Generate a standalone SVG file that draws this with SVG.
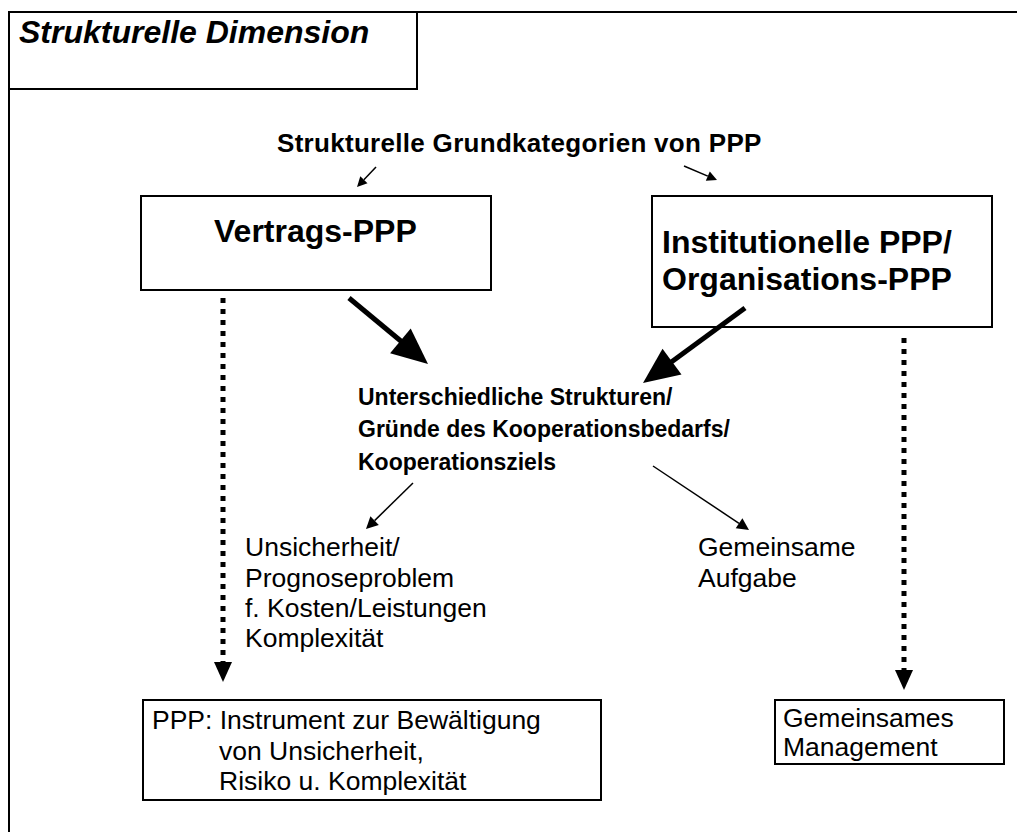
<svg xmlns="http://www.w3.org/2000/svg" width="1017" height="832" viewBox="0 0 1017 832">
<style>
 text { font-family: "Liberation Sans", Arial, sans-serif; fill:#000; }
 .frame { fill:none; stroke:#000; stroke-width:2; }
 .box { fill:#fff; stroke:#000; stroke-width:2; }
 .title { font-size:32px; font-weight:bold; font-style:italic; }
 .head { font-size:26px; font-weight:bold; letter-spacing:0.3px; }
 .big { font-size:32px; font-weight:bold; }
 .mid { font-size:23px; font-weight:bold; }
 .reg { font-size:26.5px; }
 .thin { stroke:#000; stroke-width:1.5; fill:none; }
 .thick { stroke:#000; stroke-width:5; fill:none; }
 .dot { stroke:#000; stroke-width:5; stroke-dasharray:5 6; fill:none; }
 .head-fill { fill:#000; stroke:none; }
</style>
<rect width="1017" height="832" fill="#fff"/>
<g id="frame"><path class="frame" d="M9,832 V12 H1017"/></g>
<g id="title"><rect class="box" x="9" y="12" width="408" height="77"/><text class="title" x="19" y="43">Strukturelle Dimension</text></g>
<g id="heading"><text class="head" x="277" y="152">Strukturelle Grundkategorien von PPP</text></g>
<g id="vertrags"><rect class="box" x="141" y="196" width="350" height="94"/><text class="big" x="214" y="242">Vertrags-PPP</text></g>
<g id="institutionelle"><rect class="box" x="652" y="196" width="340" height="131"/><text class="big"><tspan x="662" y="253">Institutionelle PPP/</tspan><tspan x="662" y="290">Organisations-PPP</tspan></text></g>
<g id="strukturen"><text class="mid"><tspan x="358" y="405">Unterschiedliche Strukturen/</tspan><tspan x="358" y="437">Gründe des Kooperationsbedarfs/</tspan><tspan x="358" y="470">Kooperationsziels</tspan></text></g>
<g id="unsicherheit"><text class="reg"><tspan x="245" y="556">Unsicherheit/</tspan><tspan x="245" y="587">Prognoseproblem</tspan><tspan x="245" y="617">f. Kosten/Leistungen</tspan><tspan x="245" y="647">Komplexität</tspan></text></g>
<g id="aufgabe"><text class="reg"><tspan x="698" y="556">Gemeinsame</tspan><tspan x="698" y="587">Aufgabe</tspan></text></g>
<g id="instrument"><rect class="box" x="143" y="700" width="458" height="100"/><text class="reg"><tspan x="152" y="729">PPP: Instrument zur Bewältigung</tspan><tspan x="219" y="760">von Unsicherheit,</tspan><tspan x="219" y="790">Risiko u. Komplexität</tspan></text></g>
<g id="management"><rect class="box" x="775" y="700" width="229" height="64"/><text class="reg"><tspan x="783" y="727">Gemeinsames</tspan><tspan x="783" y="756">Management</tspan></text></g>
<g id="connectors">
 <line class="thin" x1="376" y1="167" x2="363.9" y2="179.8"/>
 <polygon class="head-fill" points="357,187 367.5,183.2 360.3,176.3"/>
 <line class="thin" x1="684" y1="166" x2="707.8" y2="176.1"/>
 <polygon class="head-fill" points="717,180 705.8,180.7 709.8,171.5"/>
 <line class="thick" x1="349" y1="298" x2="402" y2="342"/>
 <polygon class="head-fill" points="428,364 390.1,353.2 410.7,328.6"/>
 <line class="thick" x1="745" y1="308" x2="670" y2="363"/>
 <polygon class="head-fill" points="643,383 681.5,374.6 662.5,348.8"/>
 <line class="thin" x1="413" y1="483" x2="374.6" y2="520.6"/>
 <polygon class="head-fill" points="366,529 378.8,524.9 370.4,516.3"/>
 <line class="thin" x1="653" y1="466" x2="739" y2="523.3"/>
 <polygon class="head-fill" points="749,530 735.7,528.3 742.4,518.3"/>
 <line class="dot" x1="223" y1="298" x2="223" y2="662"/>
 <polygon class="head-fill" points="214,662 232,662 223,682"/>
 <line class="dot" x1="904" y1="338" x2="904" y2="670"/>
 <polygon class="head-fill" points="895,670 913,670 904,690"/>
</g>
</svg>
